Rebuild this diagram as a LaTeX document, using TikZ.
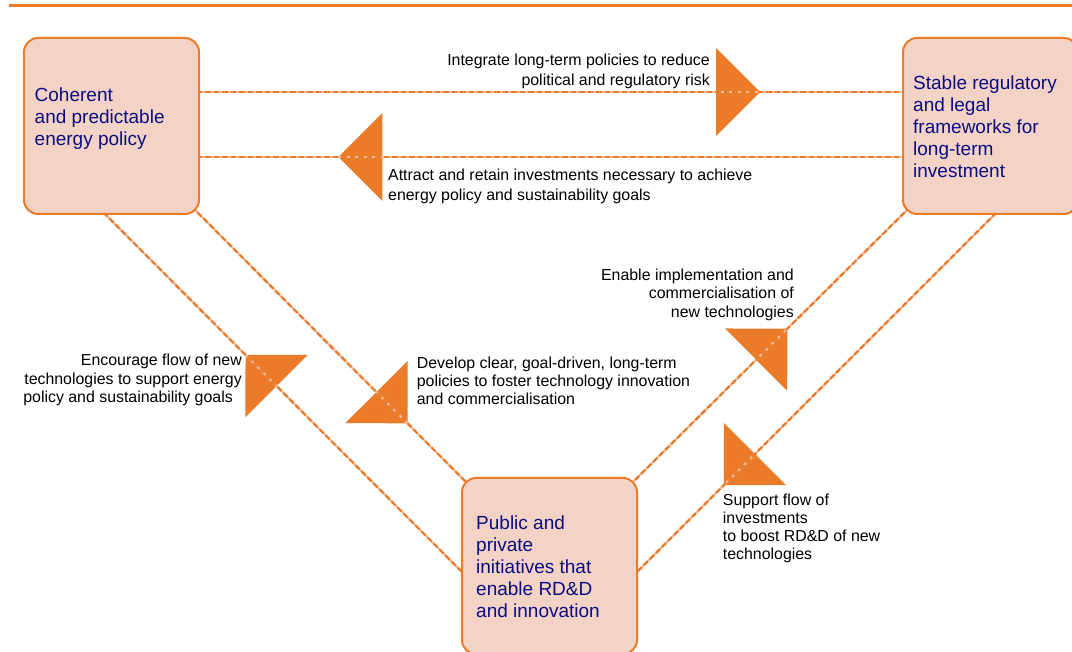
\documentclass[tikz,border=0pt]{standalone}
\usepackage{fontspec}
\setmainfont{Liberation Sans}
\usetikzlibrary{calc}
\pgfdeclarelayer{bg}
\pgfsetlayers{bg,main}
\definecolor{flow}{RGB}{235,122,41}
\definecolor{flowpale}{RGB}{244,184,152}
\definecolor{boxfill}{RGB}{242,211,197}
\definecolor{boxtext}{RGB}{12,12,130}
% left/right aligned block whose baseline is that of its first line
\newcommand{\txtblock}[2]{\begin{tabular}[t]{@{}#1@{}}#2\end{tabular}}

\begin{document}
\begin{tikzpicture}[x=1pt,y=-1pt,
  actor/.style={draw=flow, line width=2pt, fill=boxfill, rounded corners=14pt,
    minimum width=175pt, minimum height=176pt, inner sep=0pt, anchor=north west},
  actortext/.style={anchor=base west, inner sep=0pt, text=boxtext,
    font=\fontsize{19}{22}\selectfont},
  lbl/.style={inner sep=0pt, text=black, font=\fontsize{15.9}{#1}\selectfont},
  lbl/.default=19.5,
  link/.style={draw=flow, line width=2.2pt, dash pattern=on 5.5pt off 3pt,
    shorten <=-12pt, shorten >=-12pt,
    preaction={draw=flowpale, solid, line width=2.2pt}},
  onlink/.style={pos=#1, sloped, allow upside down},
  headfwd/.pic={\fill[flow] (0,0) -- (-44,44) -- (-44,-44) -- cycle;},
  headback/.pic={\fill[flow] (0,0) -- (44,44) -- (44,-44) -- cycle;}
]
\useasboundingbox (0,0) rectangle (1072,652);
\clip (0,0) rectangle (1072,652);

% rule along the top
\draw[flow, line width=3pt] (9,6) -- (1072,6);

% the three actors
\node[actor] (policy) at (23,37) {};
\node[actor] (framework) at (902,37) {};
\node[actor] (rdd) at (461,477) {};

\node[actortext] (policyT) at ([shift={(11.5,64.7)}]policy.north west)
  {\txtblock{l}{Coherent\\and predictable\\energy policy}};
\node[actortext] (frameworkT) at ([shift={(11,52.5)}]framework.north west)
  {\txtblock{l}{Stable regulatory\\and legal\\frameworks for\\long-term\\investment}};
\node[actortext] (rddT) at ([shift={(15,52.3)}]rdd.north west)
  {\txtblock{l}{Public and\\private\\initiatives that\\enable RD\&D\\and innovation}};

\coordinate (rowA) at (0,92);
\coordinate (rowB) at (0,157);

% connectors with their flow heads, behind the actors
\begin{pgfonlayer}{bg}
  \path (policy.east |- rowA) -- (framework.west |- rowA) pic[onlink=0.798]{headfwd};
  \path (policy.east |- rowB) -- (framework.west |- rowB) pic[onlink=0.197]{headback};
  \path ([shift={(-5.5,0)}]policy.south) -- ([shift={(0,5)}]rdd.west) pic[onlink=0.393]{headback};
  \path (policy.south east) -- (rdd.north west) pic[onlink=0.795]{headfwd};
  \path (framework.south west) -- (rdd.north east) pic[onlink=0.434]{headback};
  \path ([shift={(3.5,0)}]framework.south) -- ([shift={(0,5)}]rdd.east) pic[onlink=0.759]{headfwd};

  \draw[link] (policy.east |- rowA) -- (framework.west |- rowA);
  \draw[link] (policy.east |- rowB) -- (framework.west |- rowB);
  \draw[link] ([shift={(-5.5,0)}]policy.south) -- ([shift={(0,5)}]rdd.west);
  \draw[link] (policy.south east) -- (rdd.north west);
  \draw[link] (framework.south west) -- (rdd.north east);
  \draw[link] ([shift={(3.5,0)}]framework.south) -- ([shift={(0,5)}]rdd.east);
\end{pgfonlayer}

% connector labels
\node[lbl=20.3, anchor=base east] (lblRisk) at (710,65.7)
  {\txtblock{r}{Integrate long-term policies to reduce\\political and regulatory risk}};
\node[lbl=20.5, anchor=base west] (lblInvest) at (388,180.5)
  {\txtblock{l}{Attract and retain investments necessary to achieve\\energy policy and sustainability goals}};
\node[lbl=18.3, anchor=base east] (lblEnable) at (794,280.7)
  {\txtblock{r}{Enable implementation and\\commercialisation of\\new technologies}};
\node[lbl=18.5, anchor=base east] (lblEncourage) at (242,365.7)
  {\txtblock{r}{Encourage flow of new\\technologies to support energy\\policy and sustainability goals\hspace*{9pt}}};
\node[lbl=18.3, anchor=base west] (lblDevelop) at (416.7,368.3)
  {\txtblock{l}{Develop clear, goal-driven, long-term\\policies to foster technology innovation\\and commercialisation}};
\node[lbl=17.8, anchor=base west] (lblSupport) at (722.7,505.7)
  {\txtblock{l}{Support flow of\\investments\\to boost RD\&D of new\\technologies}};
\end{tikzpicture}
\end{document}
